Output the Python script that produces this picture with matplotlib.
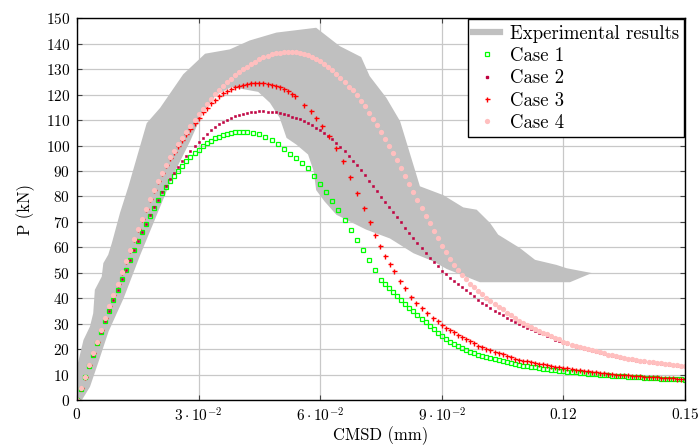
import matplotlib
matplotlib.use("Agg")
import matplotlib.pyplot as plt
from matplotlib.lines import Line2D

plt.rcParams["font.family"] = "cmr10"
plt.rcParams["mathtext.fontset"] = "cm"
plt.rcParams["axes.unicode_minus"] = False

# experimental envelope (upper edge left->right, lower edge right->left)
exp_upper = [(0, 0), (0, 13), (0.0016, 23.6), (0.0032, 28.9), (0.0040, 34.1), (0.0044, 43.3),
             (0.0061, 48.5), (0.0065, 53.8), (0.0077, 57.1), (0.0086, 61.7), (0.0106, 73.5),
             (0.0127, 84), (0.0172, 108.8), (0.0205, 114.8), (0.0262, 128), (0.0316, 136.1),
             (0.0377, 137.8), (0.0426, 141.3), (0.0492, 144.4), (0.059, 146.3), (0.0648, 139.1),
             (0.0701, 134.8), (0.0722, 127.3), (0.0763, 118.8), (0.0797, 109.6), (0.0846, 84),
             (0.0904, 80.5), (0.0953, 75.7), (0.0986, 74.8), (0.1019, 69.6), (0.1039, 65),
             (0.1093, 59.7), (0.1130, 55.1), (0.1183, 53.1), (0.1208, 51.8), (0.127, 49.9)]
exp_lower = [(0.1216, 46.3), (0.0994, 46.3), (0.0912, 51.5), (0.0879, 54.5), (0.083, 57.7),
             (0.0772, 63.5), (0.0713, 67), (0.064, 72.8), (0.0611, 78), (0.059, 82.5),
             (0.0584, 89.9), (0.057, 96.5), (0.0541, 100.4), (0.0517, 103), (0.05, 110.9),
             (0.0476, 116.8), (0.0447, 121.1), (0.0381, 123), (0.0344, 120), (0.0312, 113.5),
             (0.0279, 101.7), (0.0238, 88.6), (0.0197, 72.8), (0.0156, 57), (0.0115, 40),
             (0.0078, 27), (0.0053, 15), (0.0032, 5.2), (0.0012, 0)]

case1 = [(0, 0), (0.001, 4.5), (0.002, 9.0), (0.003, 13.5), (0.004, 17.9), (0.005, 22.3),
         (0.006, 26.6), (0.007, 30.9), (0.008, 35.1), (0.009, 39.3), (0.010, 43.4), (0.011, 47.4),
         (0.012, 51.3), (0.013, 55.1), (0.014, 58.8), (0.015, 62.4), (0.016, 65.9), (0.017, 69.3),
         (0.018, 72.5), (0.019, 75.6), (0.020, 78.5), (0.021, 81.2), (0.022, 83.7), (0.023, 86.0),
         (0.024, 88.1), (0.025, 90.1), (0.026, 92.0), (0.027, 93.8), (0.028, 95.5), (0.029, 97.0),
         (0.030, 98.4), (0.031, 99.7), (0.032, 100.9), (0.033, 101.9), (0.034, 102.8), (0.035, 103.5),
         (0.036, 104.1), (0.037, 104.6), (0.038, 105.0), (0.039, 105.2), (0.040, 105.4), (0.041, 105.5),
         (0.042, 105.4), (0.0435, 105.1), (0.045, 104.5), (0.0465, 103.5), (0.048, 102.2),
         (0.0495, 100.6), (0.051, 98.7), (0.0525, 96.8), (0.054, 95.0), (0.0555, 93.3), (0.057, 91.2),
         (0.0585, 88.2), (0.060, 85.0), (0.0615, 81.7), (0.063, 78.2), (0.0645, 74.6), (0.066, 70.8),
         (0.0675, 67.0), (0.069, 63.0), (0.0705, 59.0), (0.072, 55.0), (0.0735, 51.0), (0.075, 47.3),
         (0.076, 45.8), (0.077, 44.2), (0.078, 42.6), (0.079, 41.0), (0.080, 39.4), (0.081, 37.8),
         (0.082, 36.3), (0.083, 34.8), (0.084, 33.3), (0.085, 31.9), (0.086, 30.5), (0.087, 29.2),
         (0.088, 27.8), (0.089, 26.5), (0.090, 25.2), (0.091, 24.0), (0.092, 23.0), (0.093, 22.1),
         (0.094, 21.2), (0.095, 20.4), (0.096, 19.7), (0.097, 19.0), (0.098, 18.4), (0.099, 17.9),
         (0.100, 17.4), (0.101, 16.9), (0.102, 16.4), (0.103, 16.0), (0.104, 15.6), (0.105, 15.2),
         (0.106, 14.8), (0.107, 14.4), (0.108, 14.1), (0.109, 13.8), (0.110, 13.5), (0.111, 13.3),
         (0.112, 13.0), (0.113, 12.8), (0.114, 12.5), (0.115, 12.3), (0.116, 12.1), (0.117, 11.9),
         (0.118, 11.7), (0.119, 11.5), (0.120, 11.4), (0.121, 11.2), (0.122, 11.0), (0.123, 10.9),
         (0.124, 10.7), (0.125, 10.6), (0.126, 10.4), (0.127, 10.3), (0.128, 10.1), (0.129, 10.0),
         (0.130, 9.9), (0.131, 9.7), (0.132, 9.6), (0.133, 9.5), (0.134, 9.4), (0.135, 9.3),
         (0.136, 9.2), (0.137, 9.1), (0.138, 9.0), (0.139, 8.9), (0.140, 8.8), (0.141, 8.7),
         (0.142, 8.6), (0.143, 8.5), (0.144, 8.45), (0.145, 8.4), (0.146, 8.3), (0.147, 8.25),
         (0.148, 8.2), (0.149, 8.1), (0.150, 8.05)]

case2 = [(0, 0), (0.001, 4.5), (0.002, 9.0), (0.003, 13.5), (0.004, 17.9), (0.005, 22.3),
         (0.006, 26.6), (0.007, 30.9), (0.008, 35.1), (0.009, 39.3), (0.010, 43.4), (0.011, 47.4),
         (0.012, 51.3), (0.013, 55.1), (0.014, 58.8), (0.015, 62.4), (0.016, 65.9), (0.017, 69.3),
         (0.018, 72.6), (0.019, 75.8), (0.020, 78.8), (0.021, 81.6), (0.022, 84.2), (0.023, 86.8),
         (0.024, 89.3), (0.025, 91.6), (0.026, 93.8), (0.027, 95.9), (0.028, 97.9), (0.029, 99.8),
         (0.030, 101.5), (0.031, 103.1), (0.032, 104.6), (0.033, 106.0), (0.034, 107.2), (0.035, 108.3),
         (0.036, 109.3), (0.037, 110.2), (0.038, 110.9), (0.039, 111.5), (0.040, 112.1), (0.041, 112.5),
         (0.042, 112.8), (0.043, 113.1), (0.044, 113.3), (0.045, 113.4), (0.046, 113.4), (0.047, 113.3),
         (0.048, 113.2), (0.049, 113.0), (0.050, 112.7), (0.051, 112.3), (0.052, 111.9), (0.053, 111.4),
         (0.054, 110.9), (0.055, 110.3), (0.056, 109.6), (0.057, 108.8), (0.058, 108.0), (0.059, 107.1),
         (0.060, 106.1), (0.061, 105.0), (0.062, 103.8), (0.063, 102.5), (0.064, 101.1), (0.065, 99.5),
         (0.066, 97.8), (0.067, 96.0), (0.068, 94.1), (0.069, 92.2), (0.070, 90.3), (0.071, 88.3),
         (0.072, 86.2), (0.073, 84.1), (0.074, 82.0), (0.075, 79.9), (0.076, 77.8), (0.077, 75.9),
         (0.078, 74.0), (0.079, 72.0), (0.080, 69.9), (0.081, 67.8), (0.082, 65.7), (0.083, 63.7),
         (0.084, 61.7), (0.085, 59.7), (0.086, 57.8), (0.087, 56.0), (0.088, 54.2), (0.089, 52.5),
         (0.090, 50.8), (0.091, 49.4), (0.092, 48.0), (0.093, 46.7), (0.094, 45.5), (0.095, 44.3),
         (0.096, 43.1), (0.097, 41.9), (0.098, 40.7), (0.099, 39.5), (0.100, 38.3), (0.101, 37.2),
         (0.102, 36.1), (0.103, 35.1), (0.104, 34.2), (0.105, 33.3), (0.106, 32.4), (0.107, 31.6),
         (0.108, 30.8), (0.109, 30.0), (0.110, 29.2), (0.111, 28.5), (0.112, 27.8), (0.113, 27.1),
         (0.114, 26.5), (0.115, 25.8), (0.116, 25.2), (0.117, 24.6), (0.118, 23.7), (0.119, 23.1),
         (0.120, 22.5), (0.121, 22.0), (0.122, 21.5), (0.123, 21.0), (0.124, 20.5), (0.125, 20.1),
         (0.126, 19.7), (0.127, 19.3), (0.128, 18.9), (0.129, 18.5), (0.130, 18.1), (0.131, 17.7),
         (0.132, 17.4), (0.133, 17.0), (0.134, 16.7), (0.135, 16.4), (0.136, 16.1), (0.137, 15.8),
         (0.138, 15.5), (0.139, 15.3), (0.140, 15.0), (0.141, 14.8), (0.142, 14.6), (0.143, 14.4),
         (0.144, 14.2), (0.145, 14.0), (0.146, 13.8), (0.147, 13.6), (0.148, 13.5), (0.149, 13.3),
         (0.150, 13.2)]

case3 = [(0, 0), (0.001, 4.6), (0.002, 9.2), (0.003, 13.8), (0.004, 18.4), (0.005, 23.0),
         (0.006, 27.6), (0.007, 32.2), (0.008, 36.8), (0.009, 41.3), (0.010, 45.8), (0.011, 50.2),
         (0.012, 54.6), (0.013, 58.9), (0.014, 63.1), (0.015, 67.2), (0.016, 71.2), (0.017, 75.1),
         (0.018, 78.9), (0.019, 82.5), (0.020, 86.0), (0.021, 89.2), (0.022, 92.2), (0.023, 95.0),
         (0.024, 97.6), (0.025, 100.0), (0.026, 102.3), (0.027, 104.5), (0.028, 106.7), (0.029, 108.9),
         (0.030, 111.0), (0.031, 113.0), (0.032, 114.9), (0.033, 116.6), (0.034, 118.1), (0.035, 119.4),
         (0.036, 120.5), (0.037, 121.5), (0.038, 122.3), (0.039, 123.0), (0.040, 123.5), (0.041, 123.9),
         (0.042, 124.2), (0.043, 124.4), (0.044, 124.5), (0.045, 124.5), (0.046, 124.4), (0.047, 124.2),
         (0.048, 123.9), (0.049, 123.5), (0.050, 122.9), (0.051, 122.2), (0.052, 121.3), (0.053, 120.3),
         (0.0537, 119.4), (0.0560, 116.1), (0.0578, 113.5), (0.0590, 110.9), (0.0604, 107.6),
         (0.0621, 103.7), (0.0638, 99.1), (0.0656, 93.8), (0.0674, 87.5), (0.0691, 81.4),
         (0.0707, 75.5), (0.0722, 70.0), (0.0736, 64.7), (0.0748, 60.4), (0.0760, 56.8),
         (0.0772, 53.4), (0.0782, 50.8), (0.0797, 46.6), (0.0809, 44.0), (0.0824, 40.3),
         (0.0836, 38.3), (0.0850, 36.1), (0.0863, 34.1), (0.0879, 32.2), (0.089, 30.9), (0.090, 29.6),
         (0.091, 28.5), (0.092, 27.5), (0.093, 26.6), (0.094, 25.7), (0.095, 24.6), (0.096, 23.8),
         (0.097, 23.1), (0.098, 22.4), (0.099, 21.3), (0.100, 20.7), (0.101, 20.1), (0.102, 19.5),
         (0.103, 19.0), (0.104, 18.5), (0.105, 18.0), (0.106, 17.3), (0.107, 16.8), (0.108, 16.3),
         (0.109, 15.9), (0.110, 15.5), (0.111, 15.2), (0.112, 14.9), (0.113, 14.6), (0.114, 14.3),
         (0.115, 14.0), (0.116, 13.7), (0.117, 13.4), (0.118, 13.1), (0.119, 12.9), (0.120, 12.6),
         (0.121, 12.4), (0.122, 12.2), (0.123, 12.0), (0.124, 11.8), (0.125, 11.6), (0.126, 11.4),
         (0.127, 11.2), (0.128, 11.0), (0.129, 10.8), (0.130, 10.6), (0.131, 10.4), (0.132, 10.2),
         (0.133, 10.0), (0.134, 9.9), (0.135, 9.8), (0.136, 9.7), (0.137, 9.5), (0.138, 9.4),
         (0.139, 9.3), (0.140, 9.2), (0.141, 9.1), (0.142, 9.0), (0.143, 8.9), (0.144, 8.8),
         (0.145, 8.7), (0.146, 8.6), (0.147, 8.5), (0.148, 8.45), (0.149, 8.4), (0.150, 8.3)]

case4 = [(0, 0), (0.001, 4.6), (0.002, 9.2), (0.003, 13.8), (0.004, 18.4), (0.005, 23.0),
         (0.006, 27.6), (0.007, 32.2), (0.008, 36.8), (0.009, 41.3), (0.010, 45.8), (0.011, 50.2),
         (0.012, 54.6), (0.013, 58.9), (0.014, 63.1), (0.015, 67.2), (0.016, 71.2), (0.017, 75.1),
         (0.018, 78.9), (0.019, 82.5), (0.020, 86.0), (0.021, 89.3), (0.022, 92.5), (0.023, 95.4),
         (0.024, 98.0), (0.025, 100.5), (0.026, 103.0), (0.027, 105.4), (0.028, 107.8), (0.029, 110.1),
         (0.030, 112.3), (0.031, 114.4), (0.032, 116.4), (0.033, 118.3), (0.034, 120.1), (0.035, 121.8),
         (0.036, 123.4), (0.037, 124.9), (0.038, 126.3), (0.039, 127.6), (0.040, 128.8), (0.041, 129.9),
         (0.042, 131.0), (0.043, 132.0), (0.044, 133.0), (0.045, 133.9), (0.046, 134.7), (0.047, 135.3),
         (0.048, 135.8), (0.049, 136.2), (0.050, 136.5), (0.051, 136.7), (0.052, 136.8), (0.053, 136.8),
         (0.054, 136.7), (0.055, 136.5), (0.056, 136.1), (0.057, 135.6), (0.058, 135.0), (0.059, 134.2),
         (0.060, 133.3), (0.061, 132.2), (0.062, 131.0), (0.063, 129.7), (0.064, 128.2), (0.065, 126.7),
         (0.066, 125.0), (0.067, 123.2), (0.068, 121.8), (0.069, 119.9), (0.070, 117.7), (0.071, 115.4),
         (0.072, 112.9), (0.073, 110.4), (0.074, 107.9), (0.075, 105.3), (0.076, 102.6), (0.077, 99.8),
         (0.078, 97.0), (0.079, 94.2), (0.080, 91.0), (0.081, 88.0), (0.082, 85.0), (0.083, 81.9),
         (0.084, 78.8), (0.085, 75.6), (0.086, 72.5), (0.087, 69.4), (0.088, 66.4), (0.089, 63.5),
         (0.090, 60.7), (0.091, 58.0), (0.092, 55.5), (0.093, 53.2), (0.094, 51.1), (0.095, 49.2),
         (0.096, 47.4), (0.097, 45.8), (0.098, 44.3), (0.099, 42.9), (0.100, 41.5), (0.101, 40.2),
         (0.102, 39.0), (0.103, 37.8), (0.104, 36.7), (0.105, 35.6), (0.106, 34.4), (0.107, 33.3),
         (0.108, 32.2), (0.109, 31.2), (0.110, 30.3), (0.111, 29.5), (0.112, 28.7), (0.113, 27.9),
         (0.114, 27.2), (0.115, 26.5), (0.116, 25.8), (0.117, 25.1), (0.118, 24.4), (0.119, 23.8),
         (0.120, 22.9), (0.121, 22.3), (0.122, 21.8), (0.123, 21.3), (0.124, 20.8), (0.125, 20.3),
         (0.126, 19.9), (0.127, 19.5), (0.128, 19.1), (0.129, 18.7), (0.130, 18.3), (0.131, 17.9),
         (0.132, 17.6), (0.133, 17.2), (0.134, 16.9), (0.135, 16.6), (0.136, 16.3), (0.137, 16.0),
         (0.138, 15.7), (0.139, 15.5), (0.140, 15.2), (0.141, 15.0), (0.142, 14.8), (0.143, 14.6),
         (0.144, 14.4), (0.145, 14.2), (0.146, 14.0), (0.147, 13.8), (0.148, 13.7), (0.149, 13.5),
         (0.150, 13.4)]

xticks = [0, 0.03, 0.06, 0.09, 0.12, 0.15]
xtick_labels = [r"$0$", r"$3\cdot10^{-2}$", r"$6\cdot10^{-2}$", r"$9\cdot10^{-2}$", r"$0.12$", r"$0.15$"]
yticks = list(range(0, 151, 10))
legend_labels = ["Experimental results", "Case 1", "Case 2", "Case 3", "Case 4"]

fig = plt.figure(figsize=(7.0, 4.45), dpi=100)
ax = fig.add_axes([0.110, 0.101, 0.8686, 0.8578])

band = exp_upper + exp_lower
ax.fill([p[0] for p in band], [p[1] for p in band], color="#c0c0c0", lw=0, zorder=1)

def xs(d):
    return [p[0] for p in d]

def ys(d):
    return [p[1] for p in d]

ax.plot(xs(case1), ys(case1), ls="none", marker="s", ms=3.4, mfc="none", mec="#00ff00", mew=0.9, zorder=3)
ax.plot(xs(case2), ys(case2), ls="none", marker="s", ms=2.0, mfc="#bf0040", mec="#bf0040", mew=0.4, zorder=4)
ax.plot(xs(case3), ys(case3), ls="none", marker="+", ms=3.6, mec="#ff0000", mew=1.0, zorder=5)
ax.plot(xs(case4), ys(case4), ls="none", marker="o", ms=3.8, mfc="#ffbfbf", mec="none", zorder=6)

ax.set_xlim(0, 0.15)
ax.set_ylim(0, 150)
ax.set_xticks(xticks)
ax.set_xticklabels(xtick_labels)
ax.set_yticks(yticks)
ax.set_yticklabels([r"$%d$" % v for v in yticks])
ax.tick_params(direction="in", length=3.5, width=0.8, top=True, right=True, labelsize=11, pad=5, color="#444444")
ax.grid(True, color="#c8c8c8", lw=0.9, zorder=0)
ax.set_axisbelow(True)
for s in ax.spines.values():
    s.set_linewidth(1.0)
    s.set_zorder(10)

ax.set_xlabel("CMSD (mm)", fontsize=12, labelpad=1)
ax.set_ylabel("P (kN)", fontsize=12, labelpad=8)

handles = [
    Line2D([], [], color="#c0c0c0", lw=4.5),
    Line2D([], [], ls="none", marker="s", ms=3.4, mfc="none", mec="#00ff00", mew=0.9),
    Line2D([], [], ls="none", marker="s", ms=2.0, mfc="#bf0040", mec="#bf0040"),
    Line2D([], [], ls="none", marker="+", ms=3.6, mec="#ff0000", mew=1.0),
    Line2D([], [], ls="none", marker="o", ms=3.8, mfc="#ffbfbf", mec="none"),
]
leg = ax.legend(handles, legend_labels, loc="upper right", fontsize=13.5, borderaxespad=0.05,
                fancybox=False, framealpha=1, edgecolor="black", handlelength=1.45,
                handletextpad=0.5, borderpad=0.28, labelspacing=0.235)
leg.get_frame().set_linewidth(1.0)
leg.set_zorder(20)

fig.savefig("out.png", dpi=100)
